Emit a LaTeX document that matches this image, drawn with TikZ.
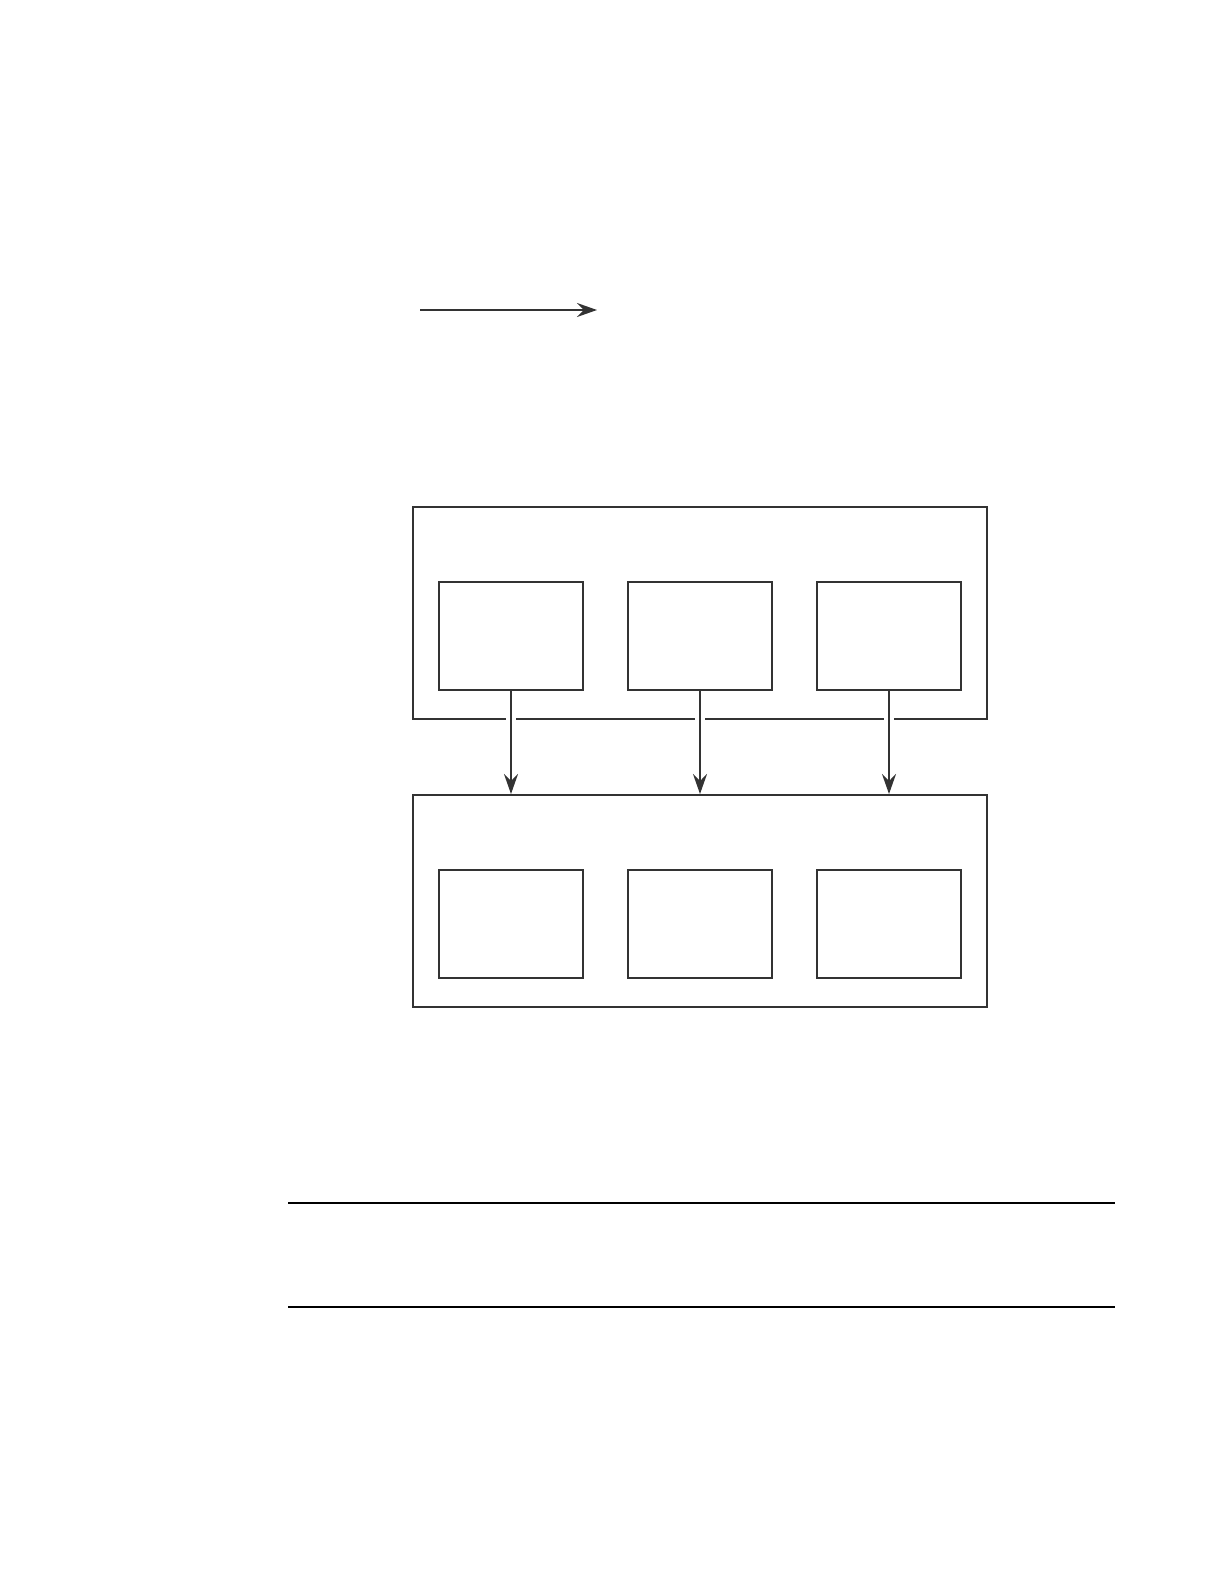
\documentclass[tikz,border=0pt]{standalone}
\usepackage{tikz}
\usetikzlibrary{arrows.meta,shapes}
\usepackage{xcolor}
\definecolor{linegray}{HTML}{333333}

\begin{document}
\begin{tikzpicture}[x=0.5pt, y=-0.5pt, line width=1pt, draw=linegray,
outer box/.style={rectangle, draw=linegray, minimum width=287pt, minimum height=106pt, inner sep=0pt},
inner box/.style={rectangle, draw=linegray, fill=white, minimum width=72pt, minimum height=54pt, inner sep=0pt},
flow/.style={draw=linegray, -{Stealth[length=10pt, width=7pt, inset=3.5pt]}},
gapflow/.style={flow, preaction={draw=white, -, line width=5pt, shorten <=4pt, shorten >=14pt}}]
\useasboundingbox (0,0) rectangle (1224,1584);
% arrow on top
\coordinate (s) at (420,310);
\coordinate (t) at (597,310);
\draw[flow] (s) -- (t);
% the two outer boxes
\node[outer box] (up) at (700,613) {};
\node[outer box] (low) at (700,901) {};
% arrows between them
\coordinate (a1) at (511,690);
\coordinate (a2) at (700,690);
\coordinate (a3) at (889,690);
\draw[gapflow] (a1) -- (a1 |- low.north);
\draw[gapflow] (a2) -- (a2 |- low.north);
\draw[gapflow] (a3) -- (a3 |- low.north);
% inner boxes
\node[inner box] (u1) at (511,636) {};
\node[inner box] (u2) at (700,636) {};
\node[inner box] (u3) at (889,636) {};
\node[inner box] (l1) at (511,924) {};
\node[inner box] (l2) at (700,924) {};
\node[inner box] (l3) at (889,924) {};
% rules at the bottom
\coordinate (r1) at (288,1203);
\coordinate (r2) at (1115,1203);
\coordinate (r3) at (288,1307);
\coordinate (r4) at (1115,1307);
\draw[black] (r1) -- (r2);
\draw[black] (r3) -- (r4);
\end{tikzpicture}
\end{document}
